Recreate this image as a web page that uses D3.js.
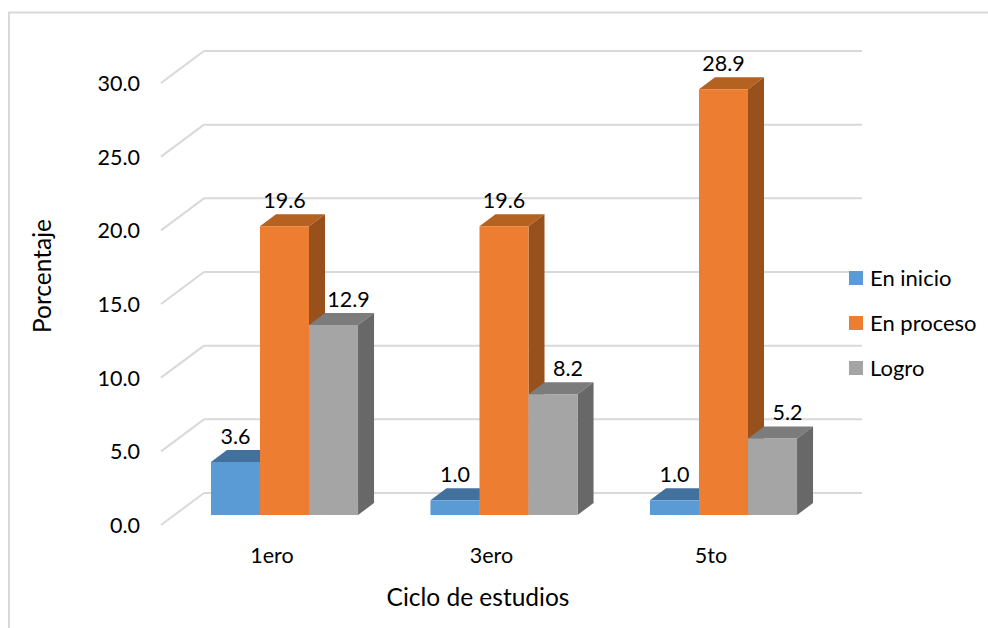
<!DOCTYPE html>
<html>
<head>
<meta charset="utf-8">
<script src="https://cdn.jsdelivr.net/npm/d3@7"></script>
<style>
  html, body { margin: 0; padding: 0; background: #fff; }
  svg { display: block; }
  text { font-family: Lato, "Open Sans", sans-serif; fill: #000; }
</style>
</head>
<body>
<div id="chart"></div>
<script>
// Data
const categories = ["1ero", "3ero", "5to"];
const seriesNames = ["En inicio", "En proceso", "Logro"];
const enInicio = [3.6, 1.0, 1.0];
const enProceso = [19.6, 19.6, 28.9];
const logro = [12.9, 8.2, 5.2];
const yTicks = [0, 5, 10, 15, 20, 25, 30];

const seriesValues = [enInicio, enProceso, logro];

// Colours per series: front, top and side faces
const frontColors = ["#5b9bd5", "#ed7d31", "#a5a5a5"];
const topColors = ["#41719c", "#b5611f", "#7c7c7c"];
const sideColors = ["#37608a", "#98501c", "#686868"];

const width = 988;
const height = 628;
const fontSize = 21.5;
const titleSize = 24.5;

// Fake 3D offsets
const barDx = 16, barDy = 12;       // depth of a bar
const wallDx = 43, wallDy = 32;     // depth of the floor
const baseY = 515;                  // bar base
const floorY = 525;                 // front edge of the floor

const svg = d3.select("#chart")
    .append("svg")
    .attr("width", width)
    .attr("height", height);

// Chart frame
svg.append("rect")
    .attr("x", 9)
    .attr("y", 12.5)
    .attr("width", 1000)
    .attr("height", 700)
    .attr("fill", "none")
    .attr("stroke", "#d9d9d9")
    .attr("stroke-width", 2);

// Scales
const y = d3.scaleLinear().domain([0, 30]).range([0, 442]);

const x0 = d3.scaleBand()
    .domain(categories)
    .range([174.75, 833.25])
    .paddingInner(0.33)
    .paddingOuter(0.165);

const x1 = d3.scaleBand()
    .domain(seriesNames)
    .range([0, x0.bandwidth()]);

// Gridlines on the back wall and the diagonal tick on the side wall
const grid = svg.append("g")
    .attr("stroke", "#d9d9d9")
    .attr("stroke-width", 2)
    .attr("fill", "none");

grid.selectAll(".wall")
    .data(yTicks)
    .enter().append("line")
    .attr("x1", 161 + wallDx)
    .attr("x2", 862)
    .attr("y1", d => floorY - wallDy - y(d))
    .attr("y2", d => floorY - wallDy - y(d));

grid.selectAll(".side")
    .data(yTicks)
    .enter().append("line")
    .attr("x1", 161)
    .attr("x2", 161 + wallDx)
    .attr("y1", d => floorY - y(d))
    .attr("y2", d => floorY - wallDy - y(d));

// Tick labels
svg.append("g").selectAll("text")
    .data(yTicks)
    .enter().append("text")
    .attr("x", 140)
    .attr("y", d => floorY - y(d) + 8)
    .attr("text-anchor", "end")
    .style("font-size", fontSize + "px")
    .text(d => d.toFixed(1));

svg.append("g").selectAll("text")
    .data(categories)
    .enter().append("text")
    .attr("x", d => x0(d) + x0.bandwidth() / 2 - 12.5)
    .attr("y", 563)
    .attr("text-anchor", "middle")
    .style("font-size", fontSize + "px")
    .text(d => d);

// Bars, left to right so each front covers the side of the previous bar
categories.forEach((cat, c) => {
    const group = svg.append("g")
        .attr("transform", `translate(${x0(cat)}, 0)`);

    seriesNames.forEach((name, s) => {
        const v = seriesValues[s][c];
        const left = x1(name);
        const right = left + x1.bandwidth();
        const top = baseY - y(v);

        group.append("path")
            .attr("d", `M${left},${top}L${left + barDx},${top - barDy}L${right + barDx},${top - barDy}L${right},${top}Z`)
            .attr("fill", topColors[s]);

        group.append("path")
            .attr("d", `M${right},${top}L${right + barDx},${top - barDy}L${right + barDx},${baseY - barDy}L${right},${baseY}Z`)
            .attr("fill", sideColors[s]);

        group.append("rect")
            .attr("x", left)
            .attr("y", top)
            .attr("width", x1.bandwidth())
            .attr("height", y(v))
            .attr("fill", frontColors[s]);
    });
});

// Value labels go on top of all the bars, the last series sits further right
categories.forEach((cat, c) => {
    seriesNames.forEach((name, s) => {
        const v = seriesValues[s][c];
        svg.append("text")
            .attr("x", x0(cat) + x1(name) + x1.bandwidth() / 2 + (s === 2 ? 15 : 0))
            .attr("y", baseY - y(v) - 18)
            .attr("text-anchor", "middle")
            .style("font-size", fontSize + "px")
            .text(v.toFixed(1));
    });
});

// Axis titles
svg.append("text")
    .attr("x", 478)
    .attr("y", 606)
    .attr("text-anchor", "middle")
    .style("font-size", titleSize + "px")
    .text("Ciclo de estudios");

svg.append("text")
    .attr("transform", "translate(51, 276) rotate(-90)")
    .attr("text-anchor", "middle")
    .style("font-size", titleSize + "px")
    .text("Porcentaje");

// Legend
const legend = svg.append("g").selectAll("g")
    .data(seriesNames)
    .enter().append("g")
    .attr("transform", (d, i) => `translate(849, ${271 + i * 45})`);

legend.append("rect")
    .attr("width", 14)
    .attr("height", 14)
    .attr("fill", (d, i) => frontColors[i]);

legend.append("text")
    .attr("x", 21)
    .attr("y", 15)
    .style("font-size", "22px")
    .text(d => d);
</script>
</body>
</html>
